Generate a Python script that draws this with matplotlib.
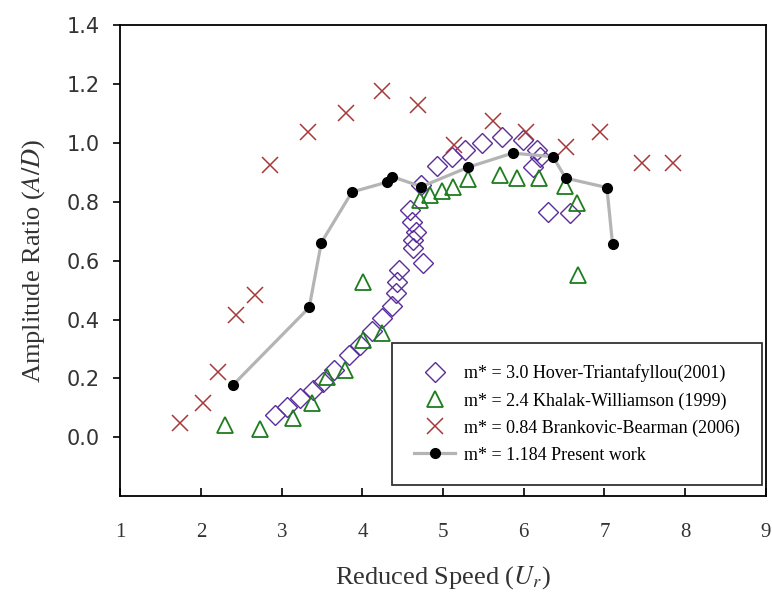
import numpy as np
import matplotlib.pyplot as plt

# Hover-Triantafyllou (2001), m* = 3.0
hover_x = [2.92, 3.06, 3.23, 3.39, 3.51, 3.65, 3.83, 3.97, 4.12, 4.24, 4.37, 4.42,
           4.43, 4.45, 4.75, 4.63, 4.63, 4.66, 4.62, 4.59, 4.73, 4.93, 5.11, 5.27,
           5.48, 5.73, 5.99, 6.16, 6.20, 6.12, 6.30, 6.57]
hover_y = [0.075, 0.102, 0.133, 0.160, 0.187, 0.228, 0.279, 0.313, 0.361, 0.405, 0.446, 0.490,
           0.527, 0.568, 0.592, 0.643, 0.670, 0.697, 0.731, 0.772, 0.857, 0.922, 0.952, 0.976,
           1.000, 1.020, 1.010, 0.976, 0.952, 0.918, 0.765, 0.762]

# Khalak-Williamson (1999), m* = 2.4
khalak_x = [2.30, 2.73, 3.14, 3.37, 3.56, 3.78, 4.01, 4.24, 4.01, 4.71, 4.84, 4.99,
            5.12, 5.31, 5.71, 5.92, 6.19, 6.51, 6.66, 6.67]
khalak_y = [0.041, 0.027, 0.064, 0.115, 0.205, 0.228, 0.330, 0.353, 0.528, 0.806, 0.823, 0.837,
            0.850, 0.878, 0.891, 0.881, 0.881, 0.854, 0.796, 0.551]

# Brankovic-Bearman (2006), m* = 0.84
brank_x = [1.74, 2.02, 2.21, 2.43, 2.67, 2.86, 3.33, 3.79, 4.24, 4.69, 5.14, 5.62,
           6.03, 6.52, 6.95, 7.46, 7.85]
brank_y = [0.047, 0.115, 0.222, 0.414, 0.482, 0.924, 1.035, 1.100, 1.175, 1.129, 0.993, 1.075,
           1.035, 0.985, 1.035, 0.931, 0.931]

# present work, m* = 1.184
present_x = [2.40, 3.34, 3.49, 3.87, 4.30, 4.37, 4.73, 5.31, 5.86, 6.36, 6.52, 7.03, 7.10]
present_y = [0.179, 0.441, 0.661, 0.833, 0.866, 0.885, 0.851, 0.917, 0.965, 0.953, 0.880, 0.848, 0.656]

labels = ["m* = 3.0 Hover-Triantafyllou(2001)",
          "m* = 2.4 Khalak-Williamson (1999)",
          "m* = 0.84 Brankovic-Bearman (2006)",
          "m* = 1.184 Present work"]

purple = "#5a2d9c"
green = "#1e7d1e"
red = "#a8383a"
serif = "Liberation Serif"
plt.rcParams["mathtext.fontset"] = "stix"

fig = plt.figure(figsize=(7.72, 5.95), dpi=100)
ax = fig.add_axes([0.156, 0.166, 0.836, 0.792])

ax.plot(hover_x, hover_y, linestyle="none", marker="D", ms=10, mfc="none",
        mec=purple, mew=1.0, label=labels[0], zorder=3)
ax.plot(khalak_x, khalak_y, linestyle="none", marker="^", ms=12, mfc="none",
        mec=green, mew=1.3, label=labels[1], zorder=3)
ax.plot(brank_x, brank_y, linestyle="none", marker="x", ms=12, mec=red,
        mew=1.1, label=labels[2], zorder=4)
ax.plot(present_x, present_y, color="#b4b4b4", lw=2.3, marker="o", ms=7,
        mfc="black", mec="black", label=labels[3], zorder=5)

ax.set_xlim(1, 9)
ax.set_ylim(-0.2, 1.4)
ax.set_xticks(np.arange(1, 10, 1))
ax.set_yticks(np.arange(0, 1.41, 0.2))
ax.set_yticklabels([f"{v:.1f}" for v in np.arange(0, 1.41, 0.2)])

for s in ax.spines.values():
    s.set_linewidth(1.3)
    s.set_color("black")

ax.tick_params(axis="y", direction="out", length=5, width=1.2, labelsize=15,
               labelcolor="#333333", pad=10)
ax.tick_params(axis="x", direction="in", length=6, width=1.2, labelsize=15,
               labelcolor="#333333", pad=19)
for t in ax.get_xticklabels():
    t.set_fontfamily(serif)

ax.set_xlabel(r"Reduced Speed ($\mathit{U_r}$)", fontsize=19, family=serif,
              color="#333333", labelpad=16)
ax.set_ylabel(r"Amplitude Ratio ($\mathit{A/D}$)", fontsize=19, family=serif,
              color="#333333", labelpad=14)

leg = ax.legend(loc="lower right", bbox_to_anchor=(0.994, 0.023), frameon=True,
                fancybox=False, edgecolor="black", prop={"family": serif, "size": 13},
                labelspacing=0.55, borderpad=1.2, handlelength=2.3, handletextpad=0.5,
                borderaxespad=0)
leg.get_frame().set_linewidth(1.3)

fig.savefig("out.png", dpi=100)
